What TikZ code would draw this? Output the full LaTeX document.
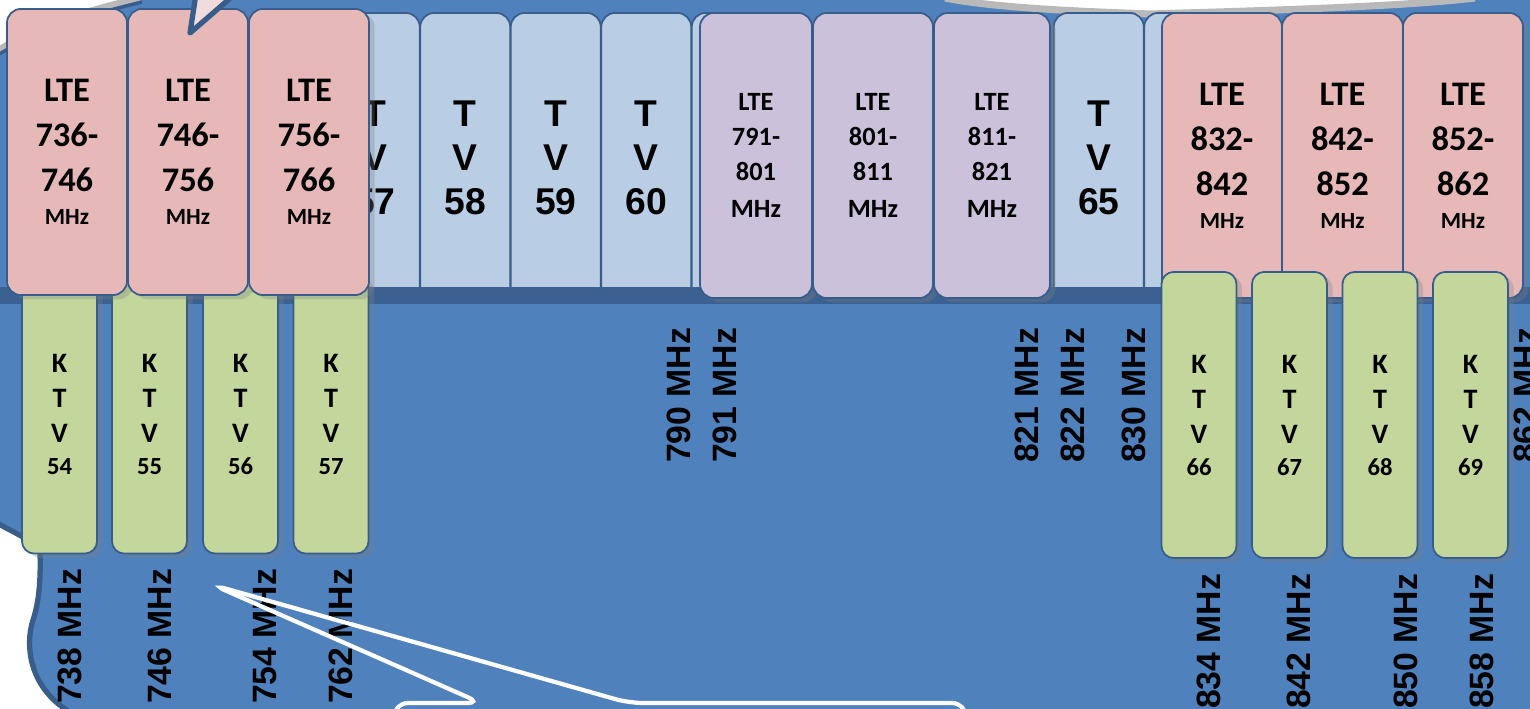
\documentclass[tikz,border=0pt]{standalone}
\usepackage{fontspec}
\setmainfont{Carlito}
\newfontfamily\arialfont{Liberation Sans}
\usetikzlibrary{shadows}
\definecolor{fondo}{HTML}{4F81BD}
\definecolor{borde}{HTML}{385D8A}
\definecolor{banda}{HTML}{3A6192}
\definecolor{tvazul}{HTML}{B9CDE5}
\definecolor{lterosa}{HTML}{E6B9B8}
\definecolor{ltelila}{HTML}{CCC1DA}
\definecolor{ktvverde}{HTML}{C3D69B}
\definecolor{globo}{HTML}{F2DCDB}
\newcommand{\mhz}{{\fontsize{6.6}{8}\selectfont MHz}}
\newcommand{\ktvnum}[1]{{\fontsize{7}{9}\selectfont #1}}

\begin{document}
\begin{tikzpicture}[x=0.01cm, y=-0.01cm,
  caja/.style={draw=borde, line width=0.5pt, rounded corners=4pt, inner sep=0pt, align=center},
  sombra/.style={drop shadow={opacity=0.3, shadow xshift=1.6pt, shadow yshift=-1.2pt}},
  tv/.style={caja, fill=tvazul, minimum width=0.9cm, minimum height=2.89cm, font=\arialfont\bfseries\fontsize{10.6}{12.5}\selectfont},
  ltegrande/.style={caja, sombra, fill=lterosa, minimum width=1.2cm, font=\bfseries\fontsize{9.8}{12.8}\selectfont},
  ltechico/.style={caja, sombra, fill=ltelila, minimum height=2.85cm, font=\bfseries\fontsize{7.5}{10}\selectfont},
  ktv/.style={caja, sombra, fill=ktvverde, minimum width=0.75cm, rounded corners=3.5pt, font=\bfseries\fontsize{8}{10}\selectfont},
  freq/.style={rotate=90, anchor=east, inner sep=0pt, font=\arialfont\bfseries\fontsize{9.6}{11}\selectfont}]
        \useasboundingbox (0,0) rectangle (1530,709);
        \clip (0,0) rectangle (1530,709);
        % fondo de la nube
        \fill[fondo] (0,0) rectangle (1530,709);
        \fill[white] (-5,-5) -- (140,-5) .. controls (95,6) and (35,22) .. (-5,50) -- cycle;
        \draw[gray!55, line width=2.5pt] (140,-1) .. controls (95,10) and (35,26) .. (-5,54);
        \draw[borde, line width=1pt] (142,2) .. controls (97,13) and (37,29) .. (-5,57);
        \fill[white] (945,-5) .. controls (1000,6) and (1100,9) .. (1150,11) .. controls (1250,8) and (1400,4) .. (1475,-5) -- cycle;
        \draw[gray!55, line width=2pt] (945,-2) .. controls (1000,9) and (1100,12) .. (1150,14) .. controls (1250,11) and (1400,7) .. (1475,-2);
        \fill[white] (-5,522) .. controls (15,533) and (38,543) .. (40,553) .. controls (41,585) and (38,605) .. (33,620) .. controls (25,645) and (28,690) .. (75,715) -- (-5,715) -- cycle;
        \draw[borde, line width=1.5pt] (-5,522) .. controls (15,533) and (38,543) .. (40,553) .. controls (41,585) and (38,605) .. (33,620) .. controls (25,645) and (28,690) .. (75,715);
        % canales de TV
        \node[tv] (tv57) at (374.75,157.5) {T\\V\\57};
        \node[tv] (tv58) at (465.25,157.5) {T\\V\\58};
        \node[tv] (tv59) at (555.75,157.5) {T\\V\\59};
        \node[tv] (tv60) at (646.25,157.5) {T\\V\\60};
        \node[tv] (tv61) at (736.75,157.5) {};
        \node[tv] (tv65) at (1098.75,157.5) {T\\V\\65};
        \node[tv] (tv66) at (1189.25,157.5) {};
        % banda oscura
        \fill[banda] (0,287) rectangle (1530,304);
        % KTV izquierda
        \node[ktv, minimum height=2.79cm] (ktv54) at (59.5,414) {K\\T\\V\\[-1pt]\ktvnum{54}};
        \node[ktv, minimum height=2.79cm] (ktv55) at (149.5,414) {K\\T\\V\\[-1pt]\ktvnum{55}};
        \node[ktv, minimum height=2.79cm] (ktv56) at (240.5,414) {K\\T\\V\\[-1pt]\ktvnum{56}};
        \node[ktv, minimum height=2.79cm] (ktv57) at (331,414) {K\\T\\V\\[-1pt]\ktvnum{57}};
        % LTE 736-766
        \node[ltegrande, minimum height=2.86cm] (lte736) at (67,152) {LTE\\736-\\746\\[-3.4pt]\mhz};
        \node[ltegrande, minimum height=2.86cm] (lte746) at (188,152) {LTE\\746-\\756\\[-3.4pt]\mhz};
        \node[ltegrande, minimum height=2.86cm] (lte756) at (309,152) {LTE\\756-\\766\\[-3.4pt]\mhz};
        % LTE 791-821
        \node[ltechico, minimum width=1.12cm] (lte791) at (756,155.5) {LTE\\791-\\801\\[0.5pt]MHz};
        \node[ltechico, minimum width=1.2cm] (lte801) at (873,155.5) {LTE\\801-\\811\\[0.5pt]MHz};
        \node[ltechico, minimum width=1.16cm] (lte811) at (992,155.5) {LTE\\811-\\821\\[0.5pt]MHz};
        % LTE 832-862
        \node[ltegrande, minimum height=2.85cm] (lte832) at (1222,155.5) {LTE\\832-\\842\\[-3.4pt]\mhz};
        \node[ltegrande, minimum height=2.85cm, minimum width=1.21cm] (lte842) at (1342.5,155.5) {LTE\\842-\\852\\[-3.4pt]\mhz};
        \node[ltegrande, minimum height=2.85cm] (lte852) at (1463,155.5) {LTE\\852-\\862\\[-3.4pt]\mhz};
        % KTV derecha
        \node[ktv, minimum height=2.86cm] (ktv66) at (1199,415) {K\\T\\V\\[-1pt]\ktvnum{66}};
        \node[ktv, minimum height=2.86cm] (ktv67) at (1289.5,415) {K\\T\\V\\[-1pt]\ktvnum{67}};
        \node[ktv, minimum height=2.86cm] (ktv68) at (1380,415) {K\\T\\V\\[-1pt]\ktvnum{68}};
        \node[ktv, minimum height=2.86cm] (ktv69) at (1470.5,415) {K\\T\\V\\[-1pt]\ktvnum{69}};
        % frecuencias
        \node[freq] (f738) at (70,568) {738 MHz};
        \node[freq] (f746) at (160,568) {746 MHz};
        \node[freq] (f754) at (265,568) {754 MHz};
        \node[freq] (f762) at (341,568) {762 MHz};
        \node[freq] (f790) at (679,327) {790 MHz};
        \node[freq] (f791) at (725,327) {791 MHz};
        \node[freq] (f821) at (1027,327) {821 MHz};
        \node[freq] (f822) at (1073,327) {822 MHz};
        \node[freq] (f830) at (1134,327) {830 MHz};
        \node[freq] (f834) at (1209,573) {834 MHz};
        \node[freq] (f842) at (1299,573) {842 MHz};
        \node[freq] (f850) at (1406,573) {850 MHz};
        \node[freq] (f858) at (1482,573) {858 MHz};
        \node[freq] (f862) at (1526,327) {862 MHz};
        % globos
        \filldraw[fill=globo, draw=borde, line width=1.5pt, line join=round] (196,-6) -- (190,33) -- (235,-6);
        \draw[white, line width=1.2pt, rounded corners=4pt] (394,740) -- (394,703) -- (481,703) -- (213,585) -- (629,703) -- (966,703) -- (966,740);
\end{tikzpicture}
\end{document}
